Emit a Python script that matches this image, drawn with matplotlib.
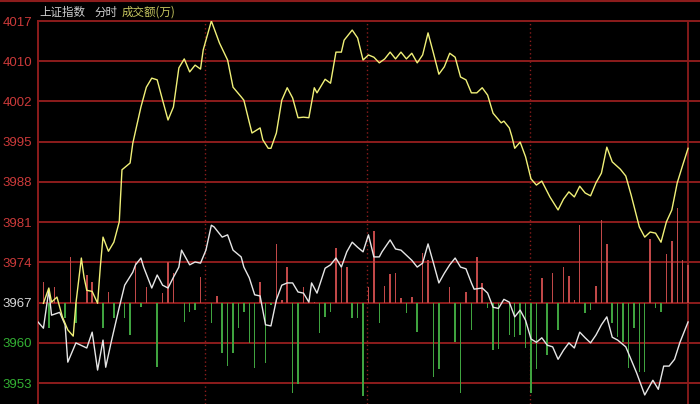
import numpy as np
import matplotlib.pyplot as plt

plt.rcParams['font.family'] = ['Noto Sans CJK SC', 'DejaVu Sans']

# minutes since the open, index level (yellow line)
t_yellow = [2, 4, 5, 7, 9, 11, 13, 14, 16, 17, 18, 20, 22, 23, 24, 26, 28, 30, 31, 34,
            35, 38, 40, 42, 44, 46, 48, 50, 52, 54, 56, 58, 60, 61, 64, 67, 70, 72, 75, 76,
            78, 79, 82, 83, 85, 86, 88, 90, 92, 94, 96, 98, 100, 102, 103, 106, 108, 110, 112, 113,
            116, 118, 120, 122, 124, 126, 128, 130, 132, 134, 136, 138, 140, 142, 144, 146, 148, 150, 152, 154,
            156, 158, 160, 162, 164, 166, 168, 171, 172, 174, 175, 176, 178, 180, 182, 184, 186, 189, 192, 194,
            196, 198, 200, 202, 204, 206, 208, 210, 212, 215, 217, 219, 222, 224, 226, 228, 230, 232, 234, 236,
            238, 240]
p_yellow = [3967.1, 3969.8, 3967.3, 3968.2, 3964.7, 3962.4, 3961.3, 3967.1, 3975.1, 3971.7,
            3969.4, 3969.2, 3967.1, 3973.5, 3978.8, 3976.3, 3977.9, 3981.5, 3990.7, 3991.9,
            3995.4, 4001.8, 4005.3, 4006.9, 4006.6, 4003.0, 3999.5, 4001.8, 4008.7, 4010.3,
            4008.0, 4009.2, 4008.5, 4011.9, 4017.0, 4013.1, 4010.1, 4005.3, 4003.6, 4003.0,
            3999.1, 3997.2, 3998.1, 3996.0, 3994.5, 3994.5, 3997.2, 4003.0, 4005.2, 4003.4,
            3999.9, 4000.0, 3999.9, 4005.2, 4004.3, 4006.7, 4006.0, 4011.5, 4011.5, 4013.6,
            4015.4, 4014.0, 4010.1, 4011.0, 4010.6, 4009.6, 4010.3, 4011.5, 4010.3, 4011.5,
            4010.3, 4011.3, 4009.6, 4011.0, 4014.9, 4011.3, 4007.6, 4008.9, 4011.3, 4010.6,
            4007.1, 4006.6, 4004.3, 4004.3, 4005.2, 4003.9, 4000.7, 3999.0, 3999.3, 3998.1,
            3996.5, 3994.5, 3995.6, 3993.0, 3989.1, 3988.0, 3988.7, 3985.9, 3983.6, 3985.5,
            3986.8, 3985.9, 3987.8, 3986.6, 3986.1, 3988.4, 3990.1, 3994.7, 3992.1, 3990.8,
            3989.6, 3986.2, 3980.6, 3978.8, 3979.7, 3979.5, 3977.9, 3981.5, 3983.6, 3988.4,
            3991.5, 3994.5]

# white line
t_white = [0, 2, 4, 5, 8, 10, 11, 14, 18, 20, 22, 24, 25, 27, 30, 32, 35, 36, 38, 39,
           42, 44, 46, 48, 50, 52, 53, 56, 58, 60, 62, 64, 65, 68, 70, 72, 75, 76, 78, 80,
           82, 84, 86, 88, 90, 92, 94, 96, 98, 100, 101, 103, 106, 108, 110, 112, 114, 116, 118, 120,
           122, 124, 126, 127, 130, 132, 134, 136, 138, 140, 142, 144, 146, 148, 150, 152, 154, 156, 158, 160,
           161, 164, 166, 168, 170, 172, 174, 176, 178, 180, 182, 184, 186, 188, 190, 192, 194, 196, 198, 200,
           202, 204, 206, 208, 210, 212, 214, 217, 219, 221, 224, 227, 229, 231, 233, 235, 237, 240]
p_white = [3963.8, 3962.7, 3969.4, 3965.0, 3965.5, 3963.3, 3956.7, 3960.1, 3959.2, 3962.0,
           3955.3, 3960.6, 3955.8, 3960.2, 3966.4, 3970.3, 3972.6, 3973.9, 3975.1, 3973.5,
           3969.8, 3972.1, 3970.3, 3969.8, 3971.7, 3973.5, 3976.5, 3973.9, 3974.4, 3974.2,
           3976.5, 3980.9, 3980.6, 3978.8, 3979.2, 3976.5, 3975.3, 3973.5, 3971.6, 3968.6,
           3968.4, 3963.3, 3963.1, 3967.7, 3970.3, 3970.7, 3970.7, 3969.1, 3968.9, 3967.3,
           3970.7, 3968.9, 3973.3, 3973.9, 3975.1, 3973.5, 3976.2, 3977.9, 3977.0, 3976.2,
           3979.2, 3975.3, 3975.3, 3976.2, 3978.3, 3976.7, 3976.5, 3975.6, 3974.7, 3973.5,
           3974.2, 3977.6, 3974.2, 3970.7, 3972.4, 3973.9, 3975.1, 3973.5, 3973.2, 3970.7,
           3969.6, 3969.8, 3968.9, 3966.4, 3966.2, 3967.8, 3967.3, 3964.7, 3965.9, 3964.1,
           3960.8, 3960.2, 3961.0, 3959.7, 3959.4, 3957.2, 3958.8, 3960.1, 3959.2, 3962.0,
           3961.0, 3960.1, 3961.5, 3963.3, 3964.7, 3961.1, 3960.6, 3959.4, 3957.1, 3954.8,
           3950.9, 3953.5, 3951.9, 3956.0, 3956.0, 3957.2, 3960.2, 3963.8]

# turnover bars, drawn from the previous close (length in chart units)
t_up = [2, 6, 12, 18, 20, 26, 36, 40, 46, 48, 50, 60, 66, 82, 88, 90, 92, 98, 102, 110,
        112, 114, 122, 124, 128, 130, 132, 134, 138, 142, 144, 152, 158, 162, 164, 186, 190, 194, 196, 198,
        200, 206, 208, 210, 226, 232, 234, 236, 238, 240]
h_up = [3.7, 2.7, 8.0, 4.9, 3.7, 1.9, 7.2, 2.7, 1.8, 7.2, 5.3, 4.6, 1.2, 3.7, 10.3, 0.5, 6.4, 2.8, 0.2, 9.7,
        6.2, 6.4, 2.8, 12.6, 3.0, 5.0, 5.3, 0.9, 1.1, 8.8, 7.6, 2.7, 1.9, 8.0, 3.5, 4.4, 5.3, 6.4, 4.8, 0.5,
        13.8, 3.0, 14.7, 10.3, 11.3, 8.7, 11.0, 16.8, 7.6, 6.7]
t_down = [4, 10, 14, 24, 28, 32, 34, 38, 44, 54, 56, 58, 64, 68, 70, 72, 74, 76, 78, 80,
          84, 86, 94, 96, 104, 106, 108, 116, 118, 120, 126, 136, 140, 146, 148, 154, 156, 160, 166, 168,
          170, 174, 176, 178, 180, 182, 184, 188, 192, 202, 204, 212, 214, 216, 218, 220, 222, 224, 228, 230]
h_down = [4.4, 2.7, 3.5, 4.4, 2.7, 2.7, 5.7, 0.7, 11.3, 3.4, 1.6, 1.2, 3.5, 8.8, 11.1, 8.8, 4.4, 1.6, 7.1, 11.5,
          10.6, 0.4, 15.9, 14.3, 5.3, 2.5, 1.6, 2.7, 2.7, 16.4, 3.5, 1.9, 5.1, 13.1, 11.7, 6.9, 15.9, 4.8, 0.9, 8.3,
          8.1, 5.7, 6.0, 5.7, 8.0, 15.9, 11.8, 9.2, 4.8, 1.8, 1.2, 3.5, 6.0, 6.9, 11.5, 4.4, 12.2, 12.2, 0.9, 1.6]

prev_close = 3967.2
tick_labels = ['3953', '3960', '3967', '3974', '3981', '3988', '3995', '4002', '4010', '4017']
tick_colors = ['#33b033', '#33b033', '#d8d8d8'] + ['#cc3a3a'] * 7

grid_c = '#8c1c1c'

fig = plt.figure(figsize=(7, 4.04), dpi=100, facecolor='black')
ax = fig.add_axes([38 / 700, 0, 662 / 700, 383 / 404])
ax.set_facecolor('black')
ax.set_xlim(0, 244.4)
ax.set_ylim(3949.3, 4017)

ticks = np.linspace(3953, 4017, len(tick_labels))
for y in ticks:
    ax.axhline(y, color=grid_c, lw=1.4, zorder=1, clip_on=False)
for m in [61.5, 121.5, 181.5]:
    ax.axvline(m, color=grid_c, lw=1, ls=(0, (1, 2)), zorder=1)
ax.axvline(240, color=grid_c, lw=1.3, zorder=1)

# volume bars
ax.bar(t_up, h_up, bottom=prev_close, width=0.55, color='#c04848', zorder=2)
ax.bar(t_down, [-h for h in h_down], bottom=prev_close, width=0.55, color='#3fa33f', zorder=2)

# lines
ax.plot(t_white, p_white, color='#e6e6e6', lw=1, zorder=3)
ax.plot(t_yellow, p_yellow, color='#f0f078', lw=1, zorder=4)

ax.set_yticks(ticks)
ax.set_yticklabels(tick_labels)
for lbl, c in zip(ax.get_yticklabels(), tick_colors):
    lbl.set_color(c)
    lbl.set_fontfamily('Liberation Sans')
    lbl.set_fontsize(9.5)
ax.tick_params(axis='y', length=0, pad=4)
ax.set_xticks([])
for s in ['right', 'bottom', 'top']:
    ax.spines[s].set_visible(False)
ax.spines['left'].set_color(grid_c)
ax.spines['left'].set_linewidth(1.4)

# header
fig.add_artist(plt.Line2D([0, 1], [1 - 1 / 404] * 2, color=grid_c, lw=1.5,
                          transform=fig.transFigure))
fig.text(39 / 700, 1 - 12 / 404, '上证指数', color='#d0d0d0', fontsize=8.3, va='center')
fig.text(94 / 700, 1 - 12 / 404, '分时', color='#d0d0d0', fontsize=8.3, va='center')
fig.text(122 / 700, 1 - 12 / 404, '成交额(万)', color='#c8c860', fontsize=8.3, va='center')

fig.savefig('out.png', dpi=100, facecolor='black')
